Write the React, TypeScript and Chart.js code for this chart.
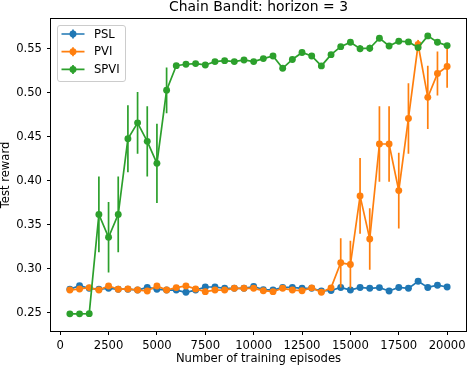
import React, { useEffect, useRef } from 'react';
import { Chart, registerables } from 'chart.js';

Chart.register(...registerables);

const FONT = 'DejaVu Sans';

const chartTitle = 'Chain Bandit: horizon = 3';
const xLabel = 'Number of training episodes';
const yLabel = 'Test reward';

const episodes = [
  500, 1000, 1500, 2000, 2500, 3000, 3500, 4000, 4500, 5000,
  5500, 6000, 6500, 7000, 7500, 8000, 8500, 9000, 9500, 10000,
  10500, 11000, 11500, 12000, 12500, 13000, 13500, 14000, 14500, 15000,
  15500, 16000, 16500, 17000, 17500, 18000, 18500, 19000, 19500, 20000,
];

const pslMean = [
  0.277, 0.281, 0.278, 0.277, 0.278, 0.277, 0.277, 0.276, 0.279, 0.277,
  0.276, 0.276, 0.2735, 0.276, 0.2795, 0.2795, 0.278, 0.278, 0.278, 0.280,
  0.2765, 0.276, 0.279, 0.279, 0.278, 0.278, 0.275, 0.2755, 0.279, 0.276,
  0.279, 0.278, 0.2788, 0.275, 0.279, 0.278, 0.286, 0.279, 0.2815, 0.2795,
];
const pslErr = [
  0.002, 0.002, 0.002, 0.002, 0.002, 0.002, 0.002, 0.002, 0.002, 0.002,
  0.002, 0.002, 0.002, 0.002, 0.002, 0.002, 0.002, 0.002, 0.002, 0.002,
  0.002, 0.002, 0.002, 0.002, 0.002, 0.002, 0.002, 0.002, 0.002, 0.002,
  0.002, 0.002, 0.002, 0.002, 0.002, 0.002, 0.002, 0.002, 0.002, 0.002,
];

const pviMean = [
  0.276, 0.2773, 0.2788, 0.276, 0.2807, 0.277, 0.2773, 0.276, 0.275, 0.2807,
  0.276, 0.2788, 0.2807, 0.2773, 0.2742, 0.276, 0.276, 0.278, 0.278, 0.278,
  0.2753, 0.2742, 0.278, 0.276, 0.2753, 0.2785, 0.2735, 0.2785, 0.307, 0.305,
  0.383, 0.334, 0.442, 0.442, 0.389, 0.471, 0.555, 0.495, 0.522, 0.530,
];
const pviErr = [
  0.002, 0.002, 0.002, 0.002, 0.002, 0.002, 0.002, 0.002, 0.002, 0.002,
  0.002, 0.002, 0.002, 0.002, 0.002, 0.002, 0.002, 0.002, 0.002, 0.002,
  0.002, 0.002, 0.002, 0.002, 0.002, 0.002, 0.002, 0.002, 0.028, 0.027,
  0.043, 0.035, 0.043, 0.043, 0.043, 0.040, 0.005, 0.036, 0.025, 0.024,
];

const spviMean = [
  0.249, 0.249, 0.2492, 0.362, 0.336, 0.362, 0.448, 0.466, 0.445, 0.420,
  0.503, 0.531, 0.5326, 0.5333, 0.5318, 0.5356, 0.5367, 0.5356, 0.5375, 0.5356,
  0.539, 0.542, 0.528, 0.538, 0.546, 0.542, 0.5307, 0.5435, 0.5526, 0.5576,
  0.5503, 0.5508, 0.5622, 0.5534, 0.5588, 0.558, 0.5515, 0.5648, 0.5576, 0.5538,
];
const spviErr = [
  0.001, 0.001, 0.001, 0.043, 0.040, 0.043, 0.038, 0.035, 0.040, 0.045,
  0.026, 0.002, 0.002, 0.002, 0.002, 0.002, 0.002, 0.002, 0.002, 0.002,
  0.002, 0.002, 0.002, 0.002, 0.003, 0.002, 0.002, 0.003, 0.002, 0.002,
  0.004, 0.004, 0.002, 0.002, 0.002, 0.002, 0.002, 0.002, 0.002, 0.002,
];

const seriesNames = ['PSL', 'PVI', 'SPVI'];
const seriesColors = ['#1f77b4', '#ff7f0e', '#2ca02c'];

const xTicks = [0, 2500, 5000, 7500, 10000, 12500, 15000, 17500, 20000];
const yTicks = [0.25, 0.3, 0.35, 0.4, 0.45, 0.5, 0.55];

const LABEL_SIZE = 11.6;
const TITLE_SIZE = 13.9;
const LINE_W = 1.7;
const MARKER_R = 3.45;

const errorBarPlugin = {
  id: 'errorBars',
  beforeDatasetDraw(chart: any, args: any) {
    const ds = chart.data.datasets[args.index];
    const errs: number[] = ds.errors;
    if (!errs) return;
    const xs = chart.scales.x;
    const ys = chart.scales.y;
    const ctx = chart.ctx;
    const a = chart.chartArea;
    ctx.save();
    ctx.beginPath();
    ctx.rect(a.left, a.top, a.right - a.left, a.bottom - a.top);
    ctx.clip();
    ctx.strokeStyle = ds.borderColor;
    ctx.lineWidth = LINE_W;
    ctx.beginPath();
    ds.data.forEach((p: any, i: number) => {
      const x = xs.getPixelForValue(p.x);
      ctx.moveTo(x, ys.getPixelForValue(p.y - errs[i]));
      ctx.lineTo(x, ys.getPixelForValue(p.y + errs[i]));
    });
    ctx.stroke();
    ctx.restore();
  },
};

const framePlugin = {
  id: 'frame',
  afterDatasetsDraw(chart: any) {
    const a = chart.chartArea;
    const ctx = chart.ctx;
    ctx.save();
    ctx.strokeStyle = '#000';
    ctx.lineWidth = 1;
    const l = Math.round(a.left) - 0.5;
    const t = Math.round(a.top) - 0.5;
    const r = Math.round(a.right) + 0.5;
    const b = Math.round(a.bottom) + 0.5;
    ctx.strokeRect(l, t, r - l, b - t);
    ctx.restore();
  },
};

const legendPlugin = {
  id: 'mplLegend',
  afterDraw(chart: any) {
    const a = chart.chartArea;
    const ctx = chart.ctx;
    const bx = a.left + 6.5;
    const by = a.top + 6.5;
    const bw = 68;
    const bh = 56;
    ctx.save();
    ctx.beginPath();
    ctx.roundRect(bx, by, bw, bh, 2.5);
    ctx.fillStyle = 'rgba(255,255,255,0.8)';
    ctx.fill();
    ctx.strokeStyle = '#cccccc';
    ctx.lineWidth = 1;
    ctx.stroke();
    seriesNames.forEach((name, i) => {
      const y = by + 8.5 + i * 17.7;
      const c = seriesColors[i];
      ctx.strokeStyle = c;
      ctx.lineWidth = LINE_W;
      ctx.beginPath();
      ctx.moveTo(bx + 4, y);
      ctx.lineTo(bx + 27, y);
      ctx.moveTo(bx + 15.5, y - 4.5);
      ctx.lineTo(bx + 15.5, y + 4.5);
      ctx.stroke();
      ctx.fillStyle = c;
      ctx.beginPath();
      ctx.arc(bx + 15.5, y, MARKER_R, 0, Math.PI * 2);
      ctx.fill();
      ctx.fillStyle = '#000';
      ctx.font = `${LABEL_SIZE}px "${FONT}"`;
      ctx.textAlign = 'left';
      ctx.textBaseline = 'middle';
      ctx.fillText(name, bx + 36.5, y + 0.5);
    });
    ctx.restore();
  },
};

function makeDataset(idx: number, mean: number[], err: number[], order: number) {
  return {
    label: seriesNames[idx],
    data: episodes.map((x, i) => ({ x, y: mean[i] })),
    errors: err,
    borderColor: seriesColors[idx],
    backgroundColor: seriesColors[idx],
    pointBackgroundColor: seriesColors[idx],
    pointBorderWidth: 0,
    pointRadius: MARKER_R,
    borderWidth: LINE_W,
    tension: 0,
    order,
  };
}

export default function App() {
  const ref = useRef<HTMLCanvasElement | null>(null);

  useEffect(() => {
    document.body.style.margin = '0';
    const canvas = ref.current;
    if (!canvas) return;
    Chart.defaults.font.family = FONT;
    const tickCommon = {
      color: '#000',
      font: { size: LABEL_SIZE, family: FONT },
    };
    const gridCommon = {
      display: true,
      drawOnChartArea: false,
      drawTicks: true,
      tickLength: 4,
      tickColor: '#000',
      tickWidth: 1,
    };
    const chart = new Chart(canvas, {
      type: 'line',
      data: {
        datasets: [
          makeDataset(0, pslMean, pslErr, 3),
          makeDataset(1, pviMean, pviErr, 2),
          makeDataset(2, spviMean, spviErr, 1),
        ] as any,
      },
      options: {
        animation: false,
        responsive: false,
        events: [],
        layout: { padding: { top: 0, right: 4, bottom: 0, left: 0 } },
        plugins: {
          legend: { display: false },
          tooltip: { enabled: false },
          title: {
            display: true,
            fullSize: false,
            text: chartTitle,
            color: '#000',
            font: { size: TITLE_SIZE, weight: 'normal', lineHeight: 1.0, family: FONT },
            padding: { top: 0, bottom: 5.1 },
          },
        },
        scales: {
          x: {
            type: 'linear',
            min: -475,
            max: 20975,
            afterBuildTicks: (s: any) => {
              s.ticks = xTicks.map((v) => ({ value: v }));
            },
            afterFit: (s: any) => {
              s.height = 35;
            },
            ticks: {
              ...tickCommon,
              padding: 4,
              maxRotation: 0,
              autoSkip: false,
              callback: (v: any) => String(v),
            },
            grid: gridCommon,
            border: { display: false },
            title: {
              display: true,
              text: xLabel,
              color: '#000',
              font: { size: LABEL_SIZE, family: FONT, lineHeight: 1.2 },
              padding: { top: 0, bottom: 0 },
            },
          },
          y: {
            type: 'linear',
            min: 0.2295,
            max: 0.584,
            afterBuildTicks: (s: any) => {
              s.ticks = yTicks.map((v) => ({ value: v }));
            },
            afterFit: (s: any) => {
              s.width = 51;
            },
            ticks: {
              ...tickCommon,
              padding: 5,
              autoSkip: false,
              callback: (v: any) => Number(v).toFixed(2),
            },
            grid: gridCommon,
            border: { display: false },
            title: {
              display: true,
              text: yLabel,
              color: '#000',
              font: { size: LABEL_SIZE, family: FONT, lineHeight: 1.1 },
              padding: { top: 0, bottom: 0 },
            },
          },
        },
      } as any,
      plugins: [errorBarPlugin, framePlugin, legendPlugin],
    });
    return () => chart.destroy();
  }, []);

  return (
    <div style={{ position: 'fixed', left: 0, top: 0, width: 470, height: 366 }}>
      <canvas ref={ref} width={470} height={366} style={{ display: 'block' }} />
    </div>
  );
}
